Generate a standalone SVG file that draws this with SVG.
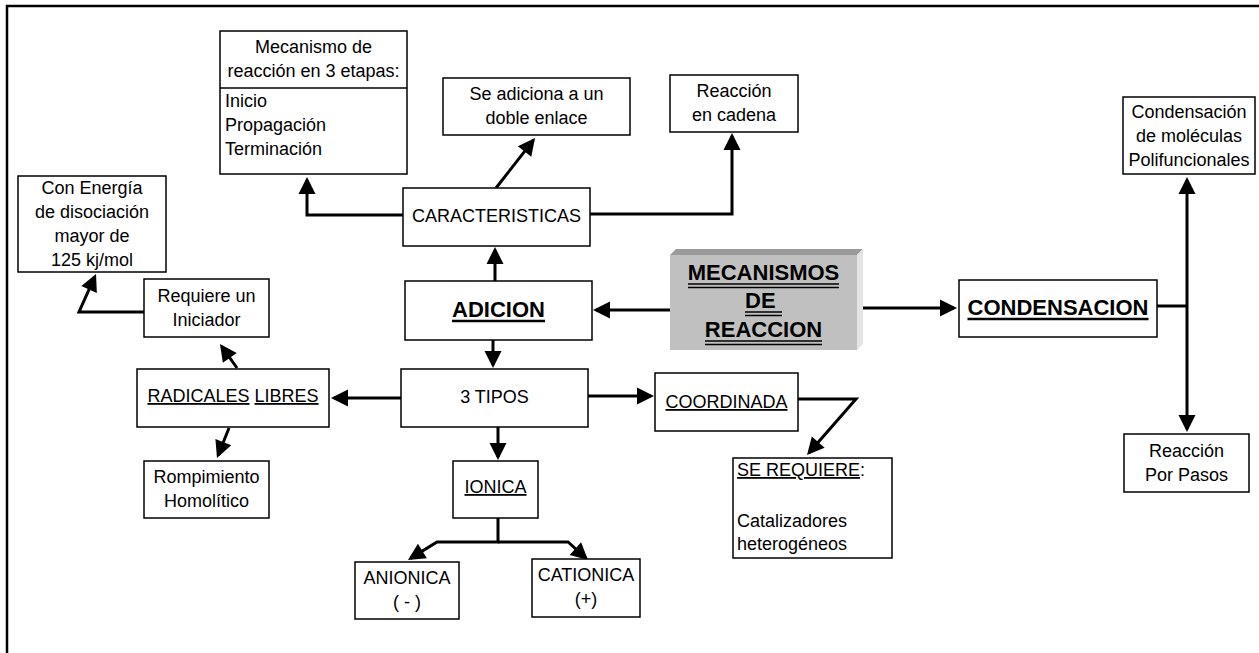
<svg xmlns="http://www.w3.org/2000/svg" width="1259" height="653" viewBox="0 0 1259 653">
<style>
.box{fill:#fff;stroke:#000;stroke-width:1.5}
.t{font-family:"Liberation Sans",Arial,sans-serif;font-size:18px;fill:#000;text-anchor:middle}
.l{text-anchor:start}
.b{font-weight:bold;font-size:22px}
.u{text-decoration:underline;text-decoration-thickness:2px}
.ul{stroke:#000;stroke-width:2.5}
.dl{stroke:#000;stroke-width:1.4}
.c{fill:none;stroke:#000;stroke-width:3}
</style>
<defs>
<marker id="ah" markerUnits="userSpaceOnUse" markerWidth="17" markerHeight="17" refX="14" refY="8.5" orient="auto" overflow="visible">
<path d="M0,0 L17,8.5 L0,17 z" fill="#000"/>
</marker>
</defs>
<rect x="0" y="0" width="1259" height="653" fill="#fff"/>
<path d="M7,653 V6 H1259" fill="none" stroke="#000" stroke-width="2.5"/>

<g id="connectors">
<path class="c" d="M403,215 H307 V180" marker-end="url(#ah)"/>
<path class="c" d="M496,188 L533.2,140.4" marker-end="url(#ah)"/>
<path class="c" d="M590,214 H732 V136" marker-end="url(#ah)"/>
<path class="c" d="M495,281 V250" marker-end="url(#ah)"/>
<path class="c" d="M670,310 H596" marker-end="url(#ah)"/>
<path class="c" d="M857,308 H954" marker-end="url(#ah)"/>
<path class="c" d="M493,340 V365" marker-end="url(#ah)"/>
<path class="c" d="M401,398 H334" marker-end="url(#ah)"/>
<path class="c" d="M588,396 H651" marker-end="url(#ah)"/>
<path class="c" d="M498,427 V457" marker-end="url(#ah)"/>
<path class="c" d="M498,518 V542 H437 L410.5,558.4" marker-end="url(#ah)"/>
<path class="c" d="M498,542 H568 L585.8,558" marker-end="url(#ah)"/>
<path class="c" d="M237,368 L221.7,346.4" marker-end="url(#ah)"/>
<path class="c" d="M229,428 L218.1,455.2" marker-end="url(#ah)"/>
<path class="c" d="M144,312 H79 L94.8,276.7" marker-end="url(#ah)"/>
<path class="c" d="M798,399 H856 L809,452.7" marker-end="url(#ah)"/>
<path class="c" d="M1157,306 H1187"/>
<path class="c" d="M1187,306 V180" marker-end="url(#ah)"/>
<path class="c" d="M1187,306 V429" marker-end="url(#ah)"/>
</g>

<g id="mecanismo3">
<rect class="box" x="220" y="31" width="187" height="143"/>
<line x1="220" y1="88" x2="407" y2="88" stroke="#000" stroke-width="1.5"/>
<text class="t" x="313.5" y="53">Mecanismo de</text>
<text class="t" x="313.5" y="77">reacción en 3 etapas:</text>
<text class="t l" x="225" y="107">Inicio</text>
<text class="t l" x="225" y="131">Propagación</text>
<text class="t l" x="225" y="155">Terminación</text>
</g>

<g id="adiciona">
<rect class="box" x="443" y="78" width="187" height="57"/>
<text class="t" x="536.5" y="100">Se adiciona a un</text>
<text class="t" x="536.5" y="124">doble enlace</text>
</g>

<g id="cadena">
<rect class="box" x="670" y="75" width="128" height="57"/>
<text class="t" x="734" y="97">Reacción</text>
<text class="t" x="734" y="121">en cadena</text>
</g>

<g id="caracteristicas">
<rect class="box" x="403" y="188" width="187" height="58"/>
<text class="t" x="496.5" y="222">CARACTERISTICAS</text>
</g>

<g id="energia">
<rect class="box" x="18" y="176" width="148" height="96"/>
<text class="t" x="92" y="194">Con Energía</text>
<text class="t" x="92" y="218">de disociación</text>
<text class="t" x="92" y="242">mayor de</text>
<text class="t" x="92" y="266">125 kj/mol</text>
</g>

<g id="adicion">
<rect class="box" x="405" y="281" width="187" height="59"/>
<text class="t b" x="498.5" y="317">ADICION</text>
<line class="ul" x1="452" y1="321" x2="545" y2="321"/>
</g>

<g id="mecanismos">
<polygon points="670,255 676,249 863,249 857,255" fill="#9a9a9a"/>
<polygon points="857,255 863,249 863,344 857,350" fill="#e4e4e4"/>
<rect x="670" y="255" width="187" height="95" fill="#c0c0c0"/>
<text class="t b" x="763.5" y="280">MECANISMOS</text>
<line class="dl" x1="688" y1="284" x2="839" y2="284"/>
<line class="dl" x1="688" y1="287.5" x2="839" y2="287.5"/>
<text class="t b l" x="745" y="308">DE</text>
<line class="dl" x1="745" y1="312" x2="782" y2="312"/>
<line class="dl" x1="745" y1="315.5" x2="782" y2="315.5"/>
<text class="t b" x="763.5" y="337">REACCION</text>
<line class="dl" x1="705" y1="341" x2="822" y2="341"/>
<line class="dl" x1="705" y1="344.5" x2="822" y2="344.5"/>
</g>

<g id="condensacion">
<rect class="box" x="959" y="280" width="198" height="57"/>
<text class="t b" x="1058" y="315">CONDENSACION</text>
<line class="ul" x1="967.5" y1="319" x2="1148.5" y2="319"/>
</g>

<g id="polifuncionales">
<rect class="box" x="1123" y="97" width="132" height="77"/>
<text class="t" x="1189" y="118">Condensación</text>
<text class="t" x="1189" y="142">de moléculas</text>
<text class="t" x="1189" y="166">Polifuncionales</text>
</g>

<g id="pasos">
<rect class="box" x="1124" y="434" width="125" height="58"/>
<text class="t" x="1186.5" y="457">Reacción</text>
<text class="t" x="1186.5" y="481">Por Pasos</text>
</g>

<g id="requiere">
<rect class="box" x="144" y="279" width="125" height="58"/>
<text class="t" x="206.5" y="302">Requiere un</text>
<text class="t" x="206.5" y="326">Iniciador</text>
</g>

<g id="radicales">
<rect class="box" x="137" y="369" width="192" height="58"/>
<text class="t" x="233" y="402"><tspan class="u">RADICALES</tspan> <tspan class="u">LIBRES</tspan></text>
</g>

<g id="rompimiento">
<rect class="box" x="144" y="461" width="125" height="57"/>
<text class="t" x="206.5" y="483">Rompimiento</text>
<text class="t" x="206.5" y="507">Homolítico</text>
</g>

<g id="tipos">
<rect class="box" x="401" y="369" width="187" height="58"/>
<text class="t" x="494.5" y="403">3 TIPOS</text>
</g>

<g id="ionica">
<rect class="box" x="453" y="461" width="85" height="57"/>
<text class="t" x="495.5" y="493"><tspan class="u">IONICA</tspan></text>
</g>

<g id="anionica">
<rect class="box" x="355" y="562" width="104" height="57"/>
<text class="t" x="407" y="584">ANIONICA</text>
<text class="t" x="407" y="608">( - )</text>
</g>

<g id="cationica">
<rect class="box" x="532" y="559" width="108" height="58"/>
<text class="t" x="586" y="581">CATIONICA</text>
<text class="t" x="586" y="605">(+)</text>
</g>

<g id="coordinada">
<rect class="box" x="655" y="373" width="143" height="58"/>
<text class="t" x="726.5" y="408"><tspan class="u">COORDINADA</tspan></text>
</g>

<g id="serequiere">
<rect class="box" x="733" y="458" width="159" height="100"/>
<text class="t l" x="737" y="476"><tspan class="u">SE REQUIERE</tspan>:</text>
<text class="t l" x="737" y="527">Catalizadores</text>
<text class="t l" x="737" y="550">heterogéneos</text>
</g>
</svg>
